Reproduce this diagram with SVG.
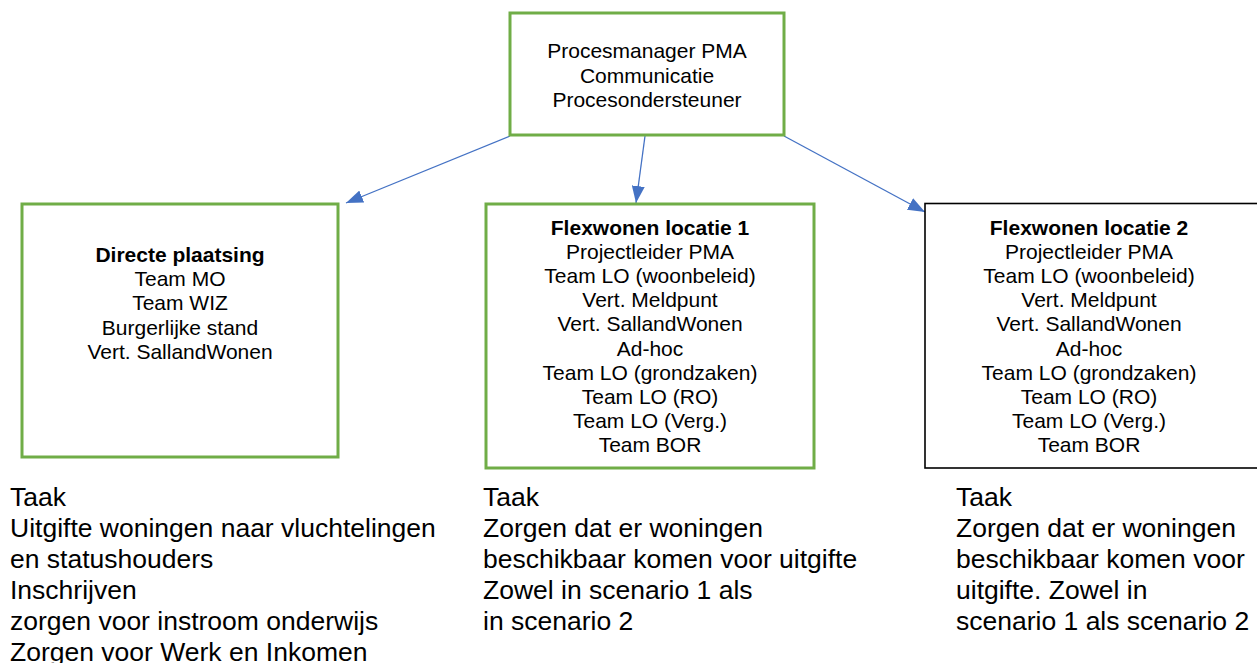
<svg xmlns="http://www.w3.org/2000/svg" width="1257" height="663" viewBox="0 0 1257 663">
<style>
text{font-family:"Liberation Sans",Arial,sans-serif;fill:#000}
.box{fill:#fff;stroke:#70AD47;stroke-width:3}
.boxk{fill:#fff;stroke:#000;stroke-width:1.6}
.t{font-size:21px;text-anchor:middle}
.b{font-weight:bold}
.task{font-size:26.5px}
.conn{stroke:#4472C4;stroke-width:1.3;fill:none;marker-end:url(#arr)}
</style>
<defs>
<marker id="arr" viewBox="0 0 17 13" refX="17" refY="6.5" markerWidth="17" markerHeight="13" markerUnits="userSpaceOnUse" orient="auto">
<path d="M0,0 L17,6.5 L0,13 z" fill="#4472C4"/>
</marker>
</defs>
<rect width="1257" height="663" fill="#fff"/>
<g id="connectors">
<line class="conn" x1="510" y1="136" x2="346" y2="203"/>
<line class="conn" x1="645" y1="136" x2="636" y2="203"/>
<line class="conn" x1="784" y1="136" x2="925" y2="212"/>
</g>
<g id="node-top">
<rect class="box" x="510" y="13" width="274" height="122"/>
<text class="t" x="647" y="58">Procesmanager PMA</text>
<text class="t" x="647" y="82.5">Communicatie</text>
<text class="t" x="647" y="107">Procesondersteuner</text>
</g>
<g id="node-directe">
<rect class="box" x="22" y="204" width="316" height="253"/>
<text class="t b" x="180" y="261.7">Directe plaatsing</text>
<text class="t" x="180" y="286">Team MO</text>
<text class="t" x="180" y="310.3">Team WIZ</text>
<text class="t" x="180" y="334.6">Burgerlijke stand</text>
<text class="t" x="180" y="358.9">Vert. SallandWonen</text>
</g>
<g id="node-flex1">
<rect class="box" x="486" y="204" width="328" height="264"/>
<text class="t b" x="650" y="235">Flexwonen locatie 1</text>
<text class="t" x="650" y="259.1">Projectleider PMA</text>
<text class="t" x="650" y="283.2">Team LO (woonbeleid)</text>
<text class="t" x="650" y="307.3">Vert. Meldpunt</text>
<text class="t" x="650" y="331.4">Vert. SallandWonen</text>
<text class="t" x="650" y="355.5">Ad-hoc</text>
<text class="t" x="650" y="379.6">Team LO (grondzaken)</text>
<text class="t" x="650" y="403.7">Team LO (RO)</text>
<text class="t" x="650" y="427.8">Team LO (Verg.)</text>
<text class="t" x="650" y="451.9">Team BOR</text>
</g>
<g id="node-flex2">
<rect class="boxk" x="925" y="203.5" width="340" height="264.5"/>
<text class="t b" x="1089" y="235">Flexwonen locatie 2</text>
<text class="t" x="1089" y="259.1">Projectleider PMA</text>
<text class="t" x="1089" y="283.2">Team LO (woonbeleid)</text>
<text class="t" x="1089" y="307.3">Vert. Meldpunt</text>
<text class="t" x="1089" y="331.4">Vert. SallandWonen</text>
<text class="t" x="1089" y="355.5">Ad-hoc</text>
<text class="t" x="1089" y="379.6">Team LO (grondzaken)</text>
<text class="t" x="1089" y="403.7">Team LO (RO)</text>
<text class="t" x="1089" y="427.8">Team LO (Verg.)</text>
<text class="t" x="1089" y="451.9">Team BOR</text>
</g>
<g id="task-left">
<text class="task" x="10" y="506">Taak</text>
<text class="task" x="10" y="537">Uitgifte woningen naar vluchtelingen</text>
<text class="task" x="10" y="568">en statushouders</text>
<text class="task" x="10" y="599">Inschrijven</text>
<text class="task" x="10" y="630">zorgen voor instroom onderwijs</text>
<text class="task" x="10" y="661">Zorgen voor Werk en Inkomen</text>
</g>
<g id="task-middle">
<text class="task" x="483" y="506">Taak</text>
<text class="task" x="483" y="537">Zorgen dat er woningen</text>
<text class="task" x="483" y="568">beschikbaar komen voor uitgifte</text>
<text class="task" x="483" y="599">Zowel in scenario 1 als</text>
<text class="task" x="483" y="630">in scenario 2</text>
</g>
<g id="task-right">
<text class="task" x="956" y="506">Taak</text>
<text class="task" x="956" y="537">Zorgen dat er woningen</text>
<text class="task" x="956" y="568">beschikbaar komen voor</text>
<text class="task" x="956" y="599">uitgifte. Zowel in</text>
<text class="task" x="956" y="630">scenario 1 als scenario 2</text>
</g>
</svg>
